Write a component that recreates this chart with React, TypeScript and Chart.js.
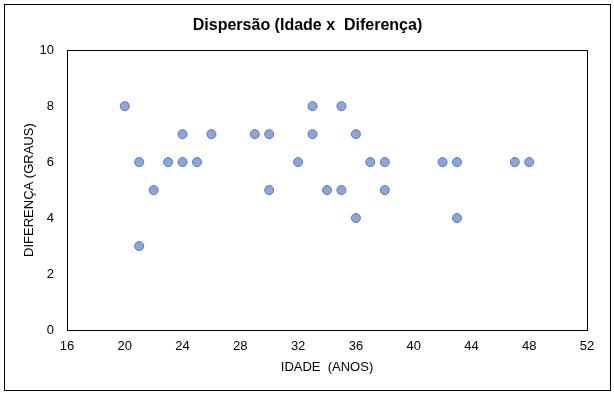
import React, { useEffect, useRef } from "react";
import { Chart, registerables } from "chart.js";

Chart.register(...registerables);

const ages = [20, 21, 21, 22, 23, 24, 24, 25, 26, 29, 30, 30, 32, 33, 33, 34, 35, 35, 36, 36, 37, 38, 38, 42, 43, 43, 47, 48];
const diffs = [8, 6, 3, 5, 6, 7, 6, 6, 7, 7, 7, 5, 6, 8, 7, 5, 8, 5, 7, 4, 6, 6, 5, 6, 6, 4, 6, 6];
const chartTitle = "Dispersão (Idade x  Diferença)";
const xTitle = "IDADE  (ANOS)";
const yTitle = "DIFERENÇA (GRAUS)";

const FONT = "'Liberation Sans', Arial, sans-serif";

const boxPlugin = {
  id: "plotBox",
  afterDraw(chart: any) {
    const { ctx, chartArea } = chart;
    ctx.save();
    ctx.strokeStyle = "#000";
    ctx.lineWidth = 1;
    ctx.strokeRect(
      Math.round(chartArea.left) + 0.5,
      Math.round(chartArea.top) + 0.5,
      Math.round(chartArea.right - chartArea.left),
      Math.round(chartArea.bottom - chartArea.top)
    );
    ctx.restore();
  },
};

export default function App() {
  const ref = useRef<HTMLCanvasElement>(null);
  useEffect(() => {
    const data = ages.map((a, i) => ({ x: a, y: diffs[i] }));
    const chart = new Chart(ref.current!, {
      type: "scatter",
      data: {
        datasets: [
          {
            data,
            backgroundColor: "rgba(140,166,218,1)",
            borderColor: "#5677be",
            borderWidth: 1,
            pointRadius: 4.5,
          },
        ],
      },
      options: {
        animation: false,
        responsive: false,
        maintainAspectRatio: false,
        layout: { padding: 0 },
        plugins: {
          legend: { display: false },
          tooltip: { enabled: false },
          title: {
            display: true,
            text: chartTitle,
            color: "#000",
            font: { family: FONT, size: 16, weight: "bold" },
            padding: { top: 11, bottom: 15 },
          },
        },
        scales: {
          x: {
            type: "linear",
            min: 16,
            max: 52,
            grid: { display: false, drawTicks: false },
            border: { display: false },
            ticks: {
              stepSize: 4,
              color: "#000",
              padding: 9,
              font: { family: FONT, size: 13 },
              maxRotation: 0,
            },
            title: {
              display: true,
              text: xTitle,
              color: "#000",
              font: { family: FONT, size: 13 },
              padding: { top: 0, bottom: 15 },
            },
            afterFit(scale: any) {
              scale.height = 60;
              scale.paddingRight = 23;
            },
          },
          y: {
            type: "linear",
            min: 0,
            max: 10,
            grid: { display: false, drawTicks: false },
            border: { display: false },
            ticks: {
              stepSize: 2,
              color: "#000",
              padding: 13,
              font: { family: FONT, size: 13 },
            },
            title: {
              display: true,
              text: yTitle,
              color: "#000",
              font: { family: FONT, size: 13 },
              padding: { top: 17, bottom: 0 },
            },
            afterFit(scale: any) {
              scale.width = 62;
            },
          },
        },
      },
      plugins: [boxPlugin],
    });
    return () => chart.destroy();
  }, []);
  return (
    <div
      style={{
        position: "fixed",
        left: 4,
        top: 4,
        width: 605,
        height: 385,
        border: "1px solid #000",
        background: "#fff",
      }}
    >
      <canvas ref={ref} width={605} height={385} style={{ display: "block" }} />
    </div>
  );
}
